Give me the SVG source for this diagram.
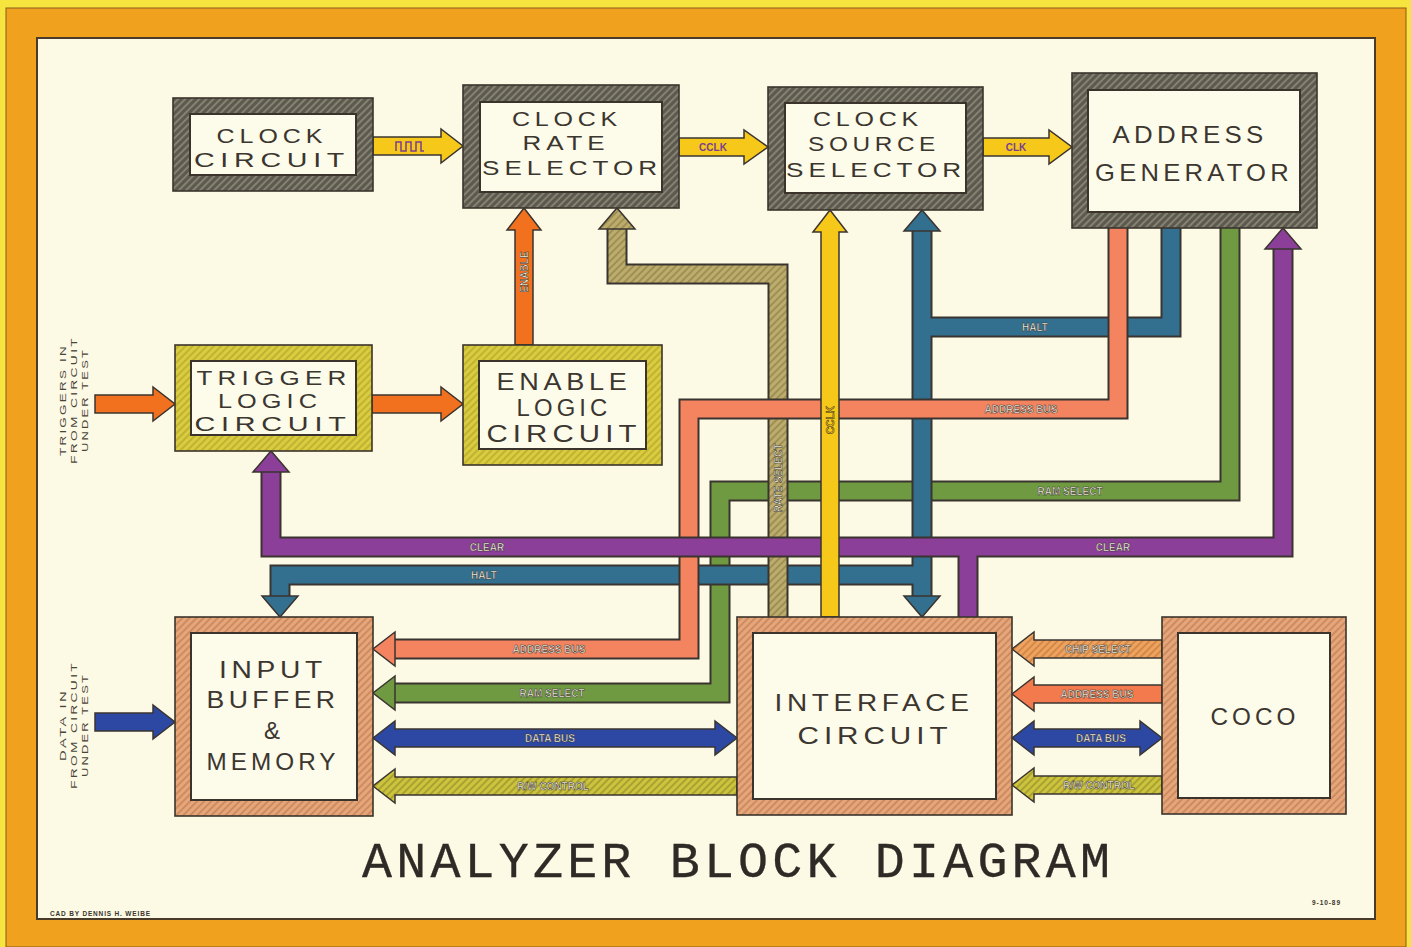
<svg xmlns="http://www.w3.org/2000/svg" width="1411" height="947" viewBox="0 0 1411 947">
<defs>
<pattern id="hGray" width="5" height="5" patternUnits="userSpaceOnUse" patternTransform="rotate(45)"><rect width="5" height="5" fill="#5c5a4f"/><line x1="1" y1="0" x2="1" y2="5" stroke="#9b9784" stroke-width="1.3"/></pattern>
<pattern id="hYel" width="5" height="5" patternUnits="userSpaceOnUse" patternTransform="rotate(45)"><rect width="5" height="5" fill="#d9cc3e"/><line x1="1" y1="0" x2="1" y2="5" stroke="#b3a52c" stroke-width="1.3"/></pattern>
<pattern id="hTan" width="5" height="5" patternUnits="userSpaceOnUse" patternTransform="rotate(45)"><rect width="5" height="5" fill="#e5a679"/><line x1="1" y1="0" x2="1" y2="5" stroke="#c27d55" stroke-width="1.3"/></pattern>
<pattern id="hKhaki" width="5" height="5" patternUnits="userSpaceOnUse" patternTransform="rotate(45)"><rect width="5" height="5" fill="#bdad6c"/><line x1="1" y1="0" x2="1" y2="5" stroke="#8e7f48" stroke-width="1.3"/></pattern>
<pattern id="hOlive" width="5" height="5" patternUnits="userSpaceOnUse" patternTransform="rotate(45)"><rect width="5" height="5" fill="#cdc43e"/><line x1="1" y1="0" x2="1" y2="5" stroke="#978e2c" stroke-width="1.3"/></pattern>
<pattern id="hChip" width="5" height="5" patternUnits="userSpaceOnUse" patternTransform="rotate(45)"><rect width="5" height="5" fill="#eea45f"/><line x1="1" y1="0" x2="1" y2="5" stroke="#c67a3e" stroke-width="1.3"/></pattern>
</defs>
<style>
.frame{stroke:#3a342c;stroke-width:1.6}
.inner{fill:#fdfbea;stroke:#3a342c;stroke-width:2}
.nt{font-family:"Liberation Sans",Arial,sans-serif;font-size:24px;letter-spacing:4px;fill:#3b362f;text-anchor:middle}
.s20{font-size:20px}
.s21{font-size:21px}
.s23{font-size:23px}
.o{fill:none;stroke:#3a3430;stroke-width:21;stroke-linejoin:miter}
.band{fill:none;stroke-width:17;stroke-linejoin:miter}
.ah{stroke:#3a3430;stroke-width:1.5;stroke-linejoin:miter}
.lbl{font-family:"Liberation Sans Narrow","Liberation Sans",Arial,sans-serif;font-size:10px;font-weight:bold;fill:#fffbea;stroke:#2e2a26;stroke-width:0.5;text-anchor:middle}
.lbd{font-family:"Liberation Sans Narrow","Liberation Sans",Arial,sans-serif;font-size:10px;font-weight:bold;fill:#7a3f8f;text-anchor:middle}
.side{font-family:"Liberation Sans",Arial,sans-serif;font-size:9px;letter-spacing:1.5px;fill:#4a4438;text-anchor:middle}
</style>
<rect x="0" y="0" width="1411" height="947" fill="#f6e53e"/>
<rect x="6" y="8" width="1400" height="939" fill="#f0a11e" stroke="#8a5a1a" stroke-width="1"/>
<rect x="37" y="38" width="1338" height="881" fill="#fcf9e4" stroke="#4a3a2a" stroke-width="2"/>

<g id="connectors">
  <g id="ram-select-bus">
    <path class="o" d="M1230,228 V491 H720 V693 H395"/>
    <path class="band" stroke="#6f9a42" d="M1230,228 V491 H720 V693 H395"/>
    <polygon class="ah" fill="#6f9a42" points="395,676 373,693 395,710"/>
  </g>
  <g id="halt-bus">
    <path class="o" d="M1171,228 V327 H922 M922,231 V596 M922,575 H280 V596"/>
    <path class="band" stroke="#33708f" d="M1171,228 V327 H922 M922,231 V596 M922,575 H280 V596"/>
    <polygon class="ah" fill="#33708f" points="904,231 922,210 940,231"/>
    <polygon class="ah" fill="#33708f" points="904,596 922,617 940,596"/>
    <polygon class="ah" fill="#33708f" points="262,596 280,617 298,596"/>
  </g>
  <g id="rate-select-bus">
    <path class="o" d="M778,617 V274 H617 V229"/>
    <path class="band" stroke="url(#hKhaki)" d="M778,617 V274 H617 V229"/>
    <polygon class="ah" fill="url(#hKhaki)" points="599,229 617,208 635,229"/>
  </g>
  <g id="address-bus">
    <path class="o" d="M1118,228 V409 H689 V649 H395"/>
    <path class="band" stroke="#f3845f" d="M1118,228 V409 H689 V649 H395"/>
    <polygon class="ah" fill="#f3845f" points="395,632 373,649 395,666"/>
  </g>
  <g id="clear-bus">
    <path class="o" d="M271,472 V547 H1283 V249 M968,547 V617"/>
    <path class="band" stroke="#8b3f98" d="M271,472 V547 H1283 V249 M968,547 V617"/>
    <polygon class="ah" fill="#8b3f98" points="253,472 271,451 289,472"/>
    <polygon class="ah" fill="#8b3f98" points="1265,249 1283,228 1301,249"/>
  </g>
  <polygon class="ah" fill="#f6c81a" points="373,137 441,137 441,129 463,146 441,163 441,155 373,155"/>
  <polyline points="396,151 396,142 401,142 401,151 406,151 406,142 411,142 411,151 416,151 416,142 421,142 421,151 424,151" fill="none" stroke="#7a3f8f" stroke-width="1.5"/>
  <polygon class="ah" fill="#f6c81a" points="679,138 744,138 744,130 768,147 744,164 744,156 679,156"/>
  <polygon class="ah" fill="#f6c81a" points="983,138 1049,138 1049,130 1072,147 1049,164 1049,156 983,156"/>
  <polygon class="ah" fill="#f2711f" points="95,395 153,395 153,387 175,404 153,421 153,413 95,413"/>
  <polygon class="ah" fill="#f2711f" points="372,395 441,395 441,387 463,404 441,421 441,413 372,413"/>
  <polygon class="ah" fill="#f2711f" points="515,345 515,230 507,230 524,208 541,230 533,230 533,345"/>
  <polygon class="ah" fill="#f6c81a" points="821,617 821,232 813,232 830,210 847,232 839,232 839,617"/>
  <polygon class="ah" fill="#2d48a2" points="95,713 153,713 153,705 175,722 153,739 153,731 95,731"/>
  <polygon class="ah" fill="#2d48a2" points="373,738 395,721 395,729 715,729 715,721 737,738 715,755 715,747 395,747 395,755"/>
  <polygon class="ah" fill="url(#hOlive)" points="737,777 395,777 395,769 373,786 395,803 395,795 737,795"/>
  <polygon class="ah" fill="url(#hChip)" points="1162,640 1034,640 1034,632 1012,649 1034,666 1034,658 1162,658"/>
  <polygon class="ah" fill="#f27a4c" points="1162,685 1034,685 1034,677 1012,694 1034,711 1034,703 1162,703"/>
  <polygon class="ah" fill="#2d48a2" points="1012,738 1034,721 1034,729 1140,729 1140,721 1162,738 1140,755 1140,747 1034,747 1034,755"/>
  <polygon class="ah" fill="url(#hOlive)" points="1162,776 1034,776 1034,768 1012,785 1034,802 1034,794 1162,794"/>
  <text class="lbd" x="713" y="151">CCLK</text>
  <text class="lbd" x="1016" y="151">CLK</text>
  <text class="lbl" x="1035" y="331">HALT</text>
  <text class="lbl" x="1021" y="413">ADDRESS BUS</text>
  <text class="lbl" x="1070" y="495">RAM SELECT</text>
  <text class="lbl" x="1113" y="551">CLEAR</text>
  <text class="lbl" x="487" y="551">CLEAR</text>
  <text class="lbl" x="484" y="579">HALT</text>
  <text class="lbl" x="549" y="653">ADDRESS BUS</text>
  <text class="lbl" x="552" y="697">RAM SELECT</text>
  <text class="lbl" x="550" y="742">DATA BUS</text>
  <text class="lbl" x="553" y="790">R/W CONTROL</text>
  <text class="lbl" x="1098" y="653">CHIP SELECT</text>
  <text class="lbl" x="1097" y="698">ADDRESS BUS</text>
  <text class="lbl" x="1101" y="742">DATA BUS</text>
  <text class="lbl" x="1099" y="789">R/W CONTROL</text>
  <text class="lbl" transform="translate(524,272) rotate(-90)" y="3.5">ENABLE</text>
  <text class="lbl" transform="translate(778,478) rotate(-90)" y="3.5">RATE SELECT</text>
  <text class="lbl" transform="translate(830,420) rotate(-90)" y="3.5" style="fill:#f6c81a;stroke:#2e2a26">CCLK</text>
</g>

<g id="clock-circuit">
  <rect class="frame" x="173" y="98" width="200" height="93" fill="url(#hGray)"/>
  <rect class="inner" x="190" y="114" width="166" height="61"/>
  <text class="nt s20" x="272" y="143" textLength="111" lengthAdjust="spacingAndGlyphs">CLOCK</text>
  <text class="nt s20" x="272" y="167" textLength="156" lengthAdjust="spacingAndGlyphs">CIRCUIT</text>
</g>
<g id="clock-rate-selector">
  <rect class="frame" x="463" y="85" width="216" height="123" fill="url(#hGray)"/>
  <rect class="inner" x="480" y="102" width="182" height="90"/>
  <text class="nt s21" x="567" y="126" textLength="110" lengthAdjust="spacingAndGlyphs">CLOCK</text>
  <text class="nt s21" x="566" y="150" textLength="87" lengthAdjust="spacingAndGlyphs">RATE</text>
  <text class="nt s21" x="572" y="175" textLength="180" lengthAdjust="spacingAndGlyphs">SELECTOR</text>
</g>
<g id="clock-source-selector">
  <rect class="frame" x="768" y="87" width="215" height="123" fill="url(#hGray)"/>
  <rect class="inner" x="785" y="103" width="181" height="90"/>
  <text class="nt s21" x="868" y="126" textLength="110" lengthAdjust="spacingAndGlyphs">CLOCK</text>
  <text class="nt s21" x="874" y="151" textLength="132" lengthAdjust="spacingAndGlyphs">SOURCE</text>
  <text class="nt s21" x="876" y="177" textLength="180" lengthAdjust="spacingAndGlyphs">SELECTOR</text>
</g>
<g id="address-generator">
  <rect class="frame" x="1072" y="73" width="245" height="155" fill="url(#hGray)"/>
  <rect class="inner" x="1088" y="90" width="212" height="122"/>
  <text class="nt" x="1190" y="143" textLength="155" lengthAdjust="spacingAndGlyphs">ADDRESS</text>
  <text class="nt" x="1194" y="181" textLength="198" lengthAdjust="spacingAndGlyphs">GENERATOR</text>
</g>
<g id="trigger-logic-circuit">
  <rect class="frame" x="175" y="345" width="197" height="106" fill="url(#hYel)"/>
  <rect class="inner" x="191" y="361" width="165" height="74"/>
  <text class="nt s20" x="274" y="385" textLength="155" lengthAdjust="spacingAndGlyphs">TRIGGER</text>
  <text class="nt s20" x="270" y="408" textLength="104" lengthAdjust="spacingAndGlyphs">LOGIC</text>
  <text class="nt s20" x="273" y="431" textLength="157" lengthAdjust="spacingAndGlyphs">CIRCUIT</text>
</g>
<g id="enable-logic-circuit">
  <rect class="frame" x="463" y="345" width="199" height="120" fill="url(#hYel)"/>
  <rect class="inner" x="479" y="361" width="167" height="88"/>
  <text class="nt s23" x="564" y="390" textLength="135" lengthAdjust="spacingAndGlyphs">ENABLE</text>
  <text class="nt s23" x="564" y="416" textLength="95" lengthAdjust="spacingAndGlyphs">LOGIC</text>
  <text class="nt s23" x="564" y="442" textLength="155" lengthAdjust="spacingAndGlyphs">CIRCUIT</text>
</g>
<g id="input-buffer-memory">
  <rect class="frame" x="175" y="617" width="198" height="199" fill="url(#hTan)"/>
  <rect class="inner" x="191" y="633" width="166" height="167"/>
  <text class="nt" x="273" y="678" textLength="108" lengthAdjust="spacingAndGlyphs">INPUT</text>
  <text class="nt" x="273" y="708" textLength="133" lengthAdjust="spacingAndGlyphs">BUFFER</text>
  <text class="nt" x="272" y="739" style="letter-spacing:0">&amp;</text>
  <text class="nt" x="273" y="770" textLength="133" lengthAdjust="spacingAndGlyphs">MEMORY</text>
</g>
<g id="interface-circuit">
  <rect class="frame" x="737" y="617" width="275" height="198" fill="url(#hTan)"/>
  <rect class="inner" x="753" y="633" width="243" height="166"/>
  <text class="nt" x="874" y="711" textLength="199" lengthAdjust="spacingAndGlyphs">INTERFACE</text>
  <text class="nt" x="875" y="744" textLength="155" lengthAdjust="spacingAndGlyphs">CIRCUIT</text>
</g>
<g id="coco">
  <rect class="frame" x="1162" y="617" width="184" height="197" fill="url(#hTan)"/>
  <rect class="inner" x="1178" y="633" width="152" height="165"/>
  <text class="nt" x="1255" y="725" textLength="89" lengthAdjust="spacingAndGlyphs">COCO</text>
</g>

<g id="side-texts">
  <text class="side" transform="translate(66,400) rotate(-90)" textLength="112" lengthAdjust="spacingAndGlyphs">TRIGGERS IN</text>
  <text class="side" transform="translate(77,400) rotate(-90)" textLength="128" lengthAdjust="spacingAndGlyphs">FROM CIRCUIT</text>
  <text class="side" transform="translate(88,400) rotate(-90)" textLength="104" lengthAdjust="spacingAndGlyphs">UNDER TEST</text>
  <text class="side" transform="translate(66,725) rotate(-90)" textLength="72" lengthAdjust="spacingAndGlyphs">DATA IN</text>
  <text class="side" transform="translate(77,725) rotate(-90)" textLength="128" lengthAdjust="spacingAndGlyphs">FROM CIRCUIT</text>
  <text class="side" transform="translate(88,725) rotate(-90)" textLength="104" lengthAdjust="spacingAndGlyphs">UNDER TEST</text>
</g>

<text x="736" y="877" textLength="748" lengthAdjust="spacing" style="font-family:'Liberation Mono','Courier New',monospace;font-size:50px;fill:#2e2a26;stroke:#2e2a26;stroke-width:0.3;text-anchor:middle">ANALYZER BLOCK DIAGRAM</text>
<text x="50" y="916" textLength="100" lengthAdjust="spacing" style="font-family:'Liberation Sans',Arial,sans-serif;font-size:6.5px;font-weight:bold;fill:#3a342c">CAD BY DENNIS H. WEIBE</text>
<text x="1312" y="905" textLength="28" lengthAdjust="spacing" style="font-family:'Liberation Sans',Arial,sans-serif;font-size:6.5px;font-weight:bold;fill:#3a342c">9-10-89</text>
</svg>
